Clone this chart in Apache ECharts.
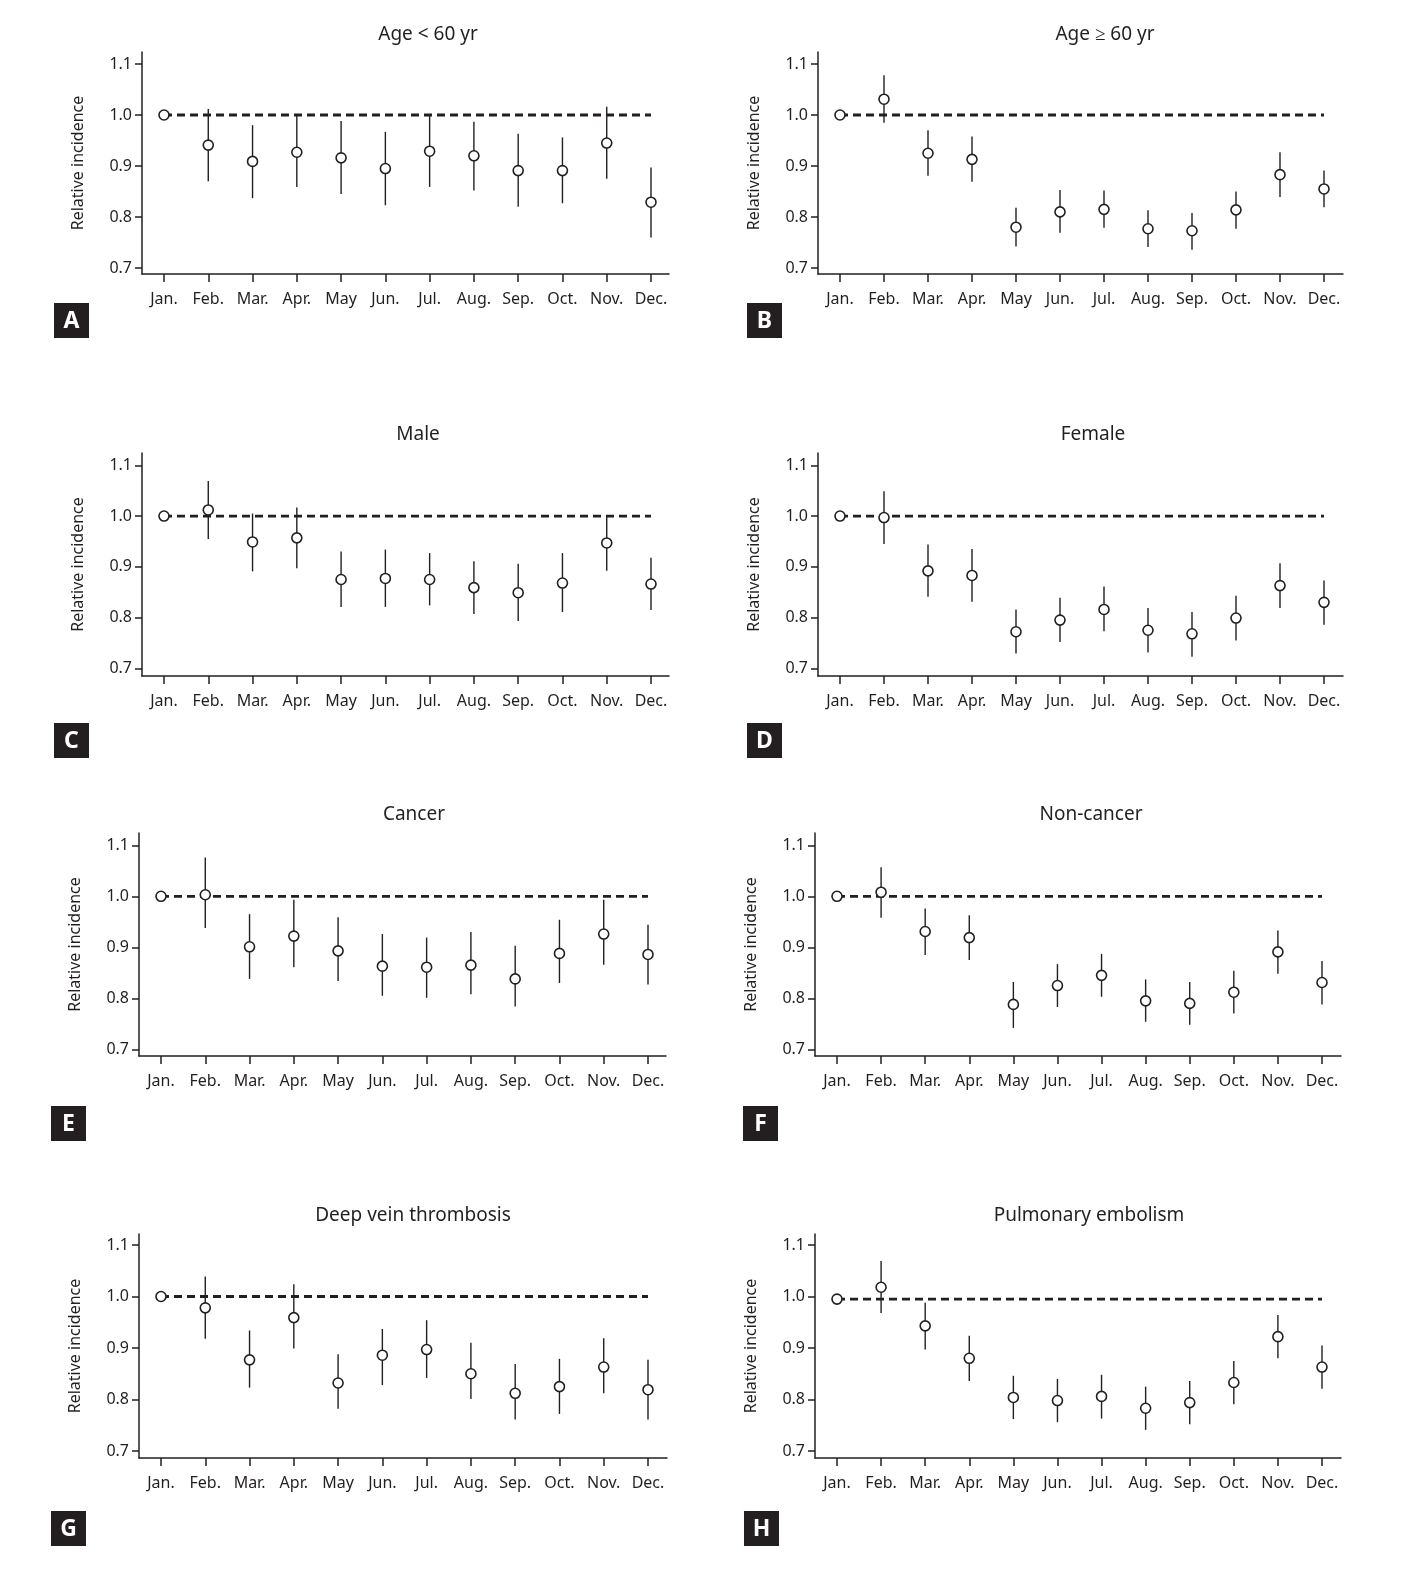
<!DOCTYPE html>
<html><head><meta charset="utf-8">
<script src="https://cdn.jsdelivr.net/npm/echarts@6/dist/echarts.min.js"></script>
<style>html,body{margin:0;padding:0;background:#fff}#c{width:1422px;height:1570px}</style>
</head><body><div id="c"></div>
<script>
const months = ['Jan.','Feb.','Mar.','Apr.','May','Jun.','Jul.','Aug.','Sep.','Oct.','Nov.','Dec.'];
const yTicks = [0.7, 0.8, 0.9, 1.0, 1.1];
const titles = ['Age < 60 yr','Age \u2265 60 yr','Male','Female','Cancer','Non-cancer','Deep vein thrombosis','Pulmonary embolism'];
const letters = ['A','B','C','D','E','F','G','H'];
const refLines = [1, 1, 1, 1, 1, 1, 1, 0.995];

const estA = [1.0, 0.941, 0.909, 0.927, 0.916, 0.895, 0.929, 0.920, 0.891, 0.891, 0.945, 0.829];
const loA  = [null, 0.870, 0.837, 0.859, 0.845, 0.823, 0.859, 0.852, 0.820, 0.827, 0.875, 0.760];
const hiA  = [null, 1.012, 0.980, 0.998, 0.988, 0.967, 0.998, 0.987, 0.963, 0.956, 1.016, 0.897];

const estB = [1.0, 1.031, 0.925, 0.913, 0.780, 0.810, 0.815, 0.777, 0.773, 0.814, 0.883, 0.855];
const loB  = [null, 0.985, 0.881, 0.869, 0.742, 0.769, 0.779, 0.741, 0.736, 0.777, 0.839, 0.819];
const hiB  = [null, 1.078, 0.970, 0.958, 0.818, 0.853, 0.852, 0.813, 0.808, 0.850, 0.927, 0.891];

const estC = [1.0, 1.012, 0.949, 0.957, 0.875, 0.877, 0.875, 0.859, 0.849, 0.868, 0.947, 0.866];
const loC  = [null, 0.955, 0.891, 0.897, 0.821, 0.821, 0.824, 0.807, 0.793, 0.811, 0.892, 0.815];
const hiC  = [null, 1.069, 1.005, 1.017, 0.930, 0.934, 0.927, 0.911, 0.906, 0.927, 1.002, 0.918];

const estD = [1.0, 0.997, 0.892, 0.883, 0.772, 0.795, 0.816, 0.775, 0.768, 0.799, 0.863, 0.830];
const loD  = [null, 0.945, 0.841, 0.831, 0.729, 0.752, 0.773, 0.731, 0.723, 0.755, 0.819, 0.786];
const hiD  = [null, 1.049, 0.944, 0.935, 0.816, 0.839, 0.861, 0.819, 0.811, 0.843, 0.907, 0.873];

const estE = [1.0, 1.003, 0.901, 0.922, 0.893, 0.863, 0.861, 0.865, 0.838, 0.888, 0.926, 0.886];
const loE  = [null, 0.938, 0.838, 0.861, 0.834, 0.805, 0.801, 0.808, 0.784, 0.830, 0.866, 0.827];
const hiE  = [null, 1.076, 0.965, 0.993, 0.959, 0.926, 0.919, 0.930, 0.903, 0.954, 0.993, 0.944];

const estF = [1.0, 1.008, 0.931, 0.919, 0.788, 0.825, 0.845, 0.795, 0.790, 0.812, 0.891, 0.831];
const loF  = [null, 0.958, 0.885, 0.875, 0.742, 0.783, 0.803, 0.754, 0.748, 0.770, 0.848, 0.788];
const hiF  = [null, 1.057, 0.976, 0.963, 0.832, 0.867, 0.887, 0.837, 0.832, 0.854, 0.933, 0.873];

const estG = [1.0, 0.978, 0.877, 0.959, 0.832, 0.886, 0.897, 0.850, 0.812, 0.825, 0.863, 0.819];
const loG  = [null, 0.918, 0.823, 0.899, 0.782, 0.828, 0.842, 0.801, 0.761, 0.772, 0.812, 0.761];
const hiG  = [null, 1.039, 0.934, 1.024, 0.888, 0.937, 0.954, 0.910, 0.869, 0.879, 0.919, 0.877];

const estH = [0.995, 1.018, 0.943, 0.880, 0.804, 0.798, 0.806, 0.783, 0.794, 0.833, 0.922, 0.863];
const loH  = [null, 0.968, 0.897, 0.836, 0.762, 0.756, 0.763, 0.741, 0.752, 0.791, 0.880, 0.821];
const hiH  = [null, 1.069, 0.988, 0.924, 0.846, 0.840, 0.848, 0.825, 0.836, 0.875, 0.964, 0.905];

const panelData = [
  [estA, loA, hiA], [estB, loB, hiB], [estC, loC, hiC], [estD, loD, hiD],
  [estE, loE, hiE], [estF, loF, hiF], [estG, loG, hiG], [estH, loH, hiH]
];

// layout (pixels): axis box, position of 1.1 / 0.7 ticks, Jan / Dec ticks, title and letter box
const layout = [
  {l:142, r:669, t:52,   b:274,  y11:64,    y07:268,    jan:164, dec:651,  tx:428,  ty:35,   bx:54,  by:303},
  {l:818, r:1343,t:52,   b:274,  y11:64,    y07:268,    jan:840, dec:1324, tx:1105, ty:35,   bx:747, by:303},
  {l:142, r:669, t:453,  b:676,  y11:465.3, y07:668.3,  jan:164, dec:651,  tx:418,  ty:435,  bx:54,  by:723},
  {l:818, r:1343,t:453,  b:676,  y11:465.3, y07:668.3,  jan:840, dec:1324, tx:1093, ty:435,  bx:747, by:723},
  {l:139, r:666, t:833,  b:1056, y11:845.3, y07:1049.3, jan:161, dec:648,  tx:414,  ty:815,  bx:51,  by:1106},
  {l:815, r:1341,t:833,  b:1056, y11:845.3, y07:1049.3, jan:837, dec:1322, tx:1091, ty:815,  bx:743, by:1106},
  {l:139, r:667, t:1234, b:1458, y11:1245,  y07:1451,   jan:161, dec:648,  tx:413,  ty:1216, bx:51,  by:1511},
  {l:815, r:1341,t:1234, b:1458, y11:1245,  y07:1451,   jan:837, dec:1322, tx:1089, ty:1216, bx:744, by:1511}
];

const INK = '#231f20';
const FONT = 'Noto Sans';
const idx = months.map((m, i) => i);

const grids = [], xAxes = [], yAxes = [], series = [], graphics = [];
layout.forEach((L, p) => {
  grids.push({left: L.l, top: L.t, width: L.r - L.l, height: L.b - L.t, containLabel: false, outerBoundsMode: 'none'});
  const step = (L.dec - L.jan) / 11;
  const pxPerUnit = (L.y07 - L.y11) / 0.4;
  xAxes.push({
    type: 'value', gridIndex: p,
    min: -(L.jan - L.l) / step, max: 11 + (L.r - L.dec) / step,
    axisLine: {show: true, onZero: false, lineStyle: {color: INK, width: 1.5}},
    axisTick: {show: true, customValues: idx, length: 8, lineStyle: {color: INK, width: 1.5}},
    axisLabel: {customValues: idx, formatter: v => months[Math.round(v)], margin: 17, color: INK, fontSize: 16, fontFamily: FONT},
    splitLine: {show: false}
  });
  yAxes.push({
    type: 'value', gridIndex: p,
    min: 0.7 - (L.b - L.y07) / pxPerUnit, max: 1.1 + (L.y11 - L.t) / pxPerUnit,
    axisLine: {show: true, onZero: false, lineStyle: {color: INK, width: 1.5}},
    axisTick: {show: true, customValues: yTicks, length: 7, lineStyle: {color: INK, width: 1.5}},
    axisLabel: {customValues: yTicks, formatter: v => v.toFixed(1), margin: 10, color: INK, fontSize: 16, fontFamily: FONT},
    splitLine: {show: false},
    name: 'Relative incidence', nameLocation: 'middle', nameGap: 56,
    nameTextStyle: {color: INK, fontSize: 16, fontFamily: FONT}
  });
  const [est, lo, hi] = panelData[p];
  series.push({
    type: 'line', xAxisIndex: p, yAxisIndex: p, symbol: 'none', silent: true, z: 2,
    data: [[0, refLines[p]], [11, refLines[p]]],
    lineStyle: {color: INK, width: 2.8, type: [8, 5]}
  });
  series.push({
    type: 'custom', xAxisIndex: p, yAxisIndex: p, z: 3,
    data: idx.filter(i => lo[i] != null).map(i => [i, lo[i], hi[i]]),
    encode: {x: 0, y: [1, 2]},
    renderItem: (params, api) => {
      const a = api.coord([api.value(0), api.value(1)]);
      const b = api.coord([api.value(0), api.value(2)]);
      return {type: 'line', shape: {x1: a[0], y1: a[1], x2: b[0], y2: b[1]}, style: {stroke: INK, lineWidth: 1.4}};
    }
  });
  series.push({
    type: 'scatter', xAxisIndex: p, yAxisIndex: p, z: 5,
    data: idx.map(i => [i, est[i]]),
    symbol: 'circle', symbolSize: 10,
    itemStyle: {color: '#ffffff', borderColor: INK, borderWidth: 1.6, opacity: 1}
  });
  graphics.push({
    type: 'text', x: L.tx, y: L.ty,
    style: {text: titles[p], fill: INK, font: '19px "' + FONT + '"', textAlign: 'center', textVerticalAlign: 'middle'}
  });
  graphics.push({type: 'rect', shape: {x: L.bx, y: L.by, width: 35, height: 35}, style: {fill: INK}});
  graphics.push({
    type: 'text', x: L.bx + 17.5, y: L.by + 18.5,
    style: {text: letters[p], fill: '#ffffff', font: 'bold 23px "' + FONT + '"', textAlign: 'center', textVerticalAlign: 'middle'}
  });
});

const chart = echarts.init(document.getElementById('c'), null, {renderer: 'canvas'});
chart.setOption({
  backgroundColor: '#ffffff',
  animation: false,
  grid: grids, xAxis: xAxes, yAxis: yAxes, series: series,
  graphic: graphics
});
</script></body></html>
